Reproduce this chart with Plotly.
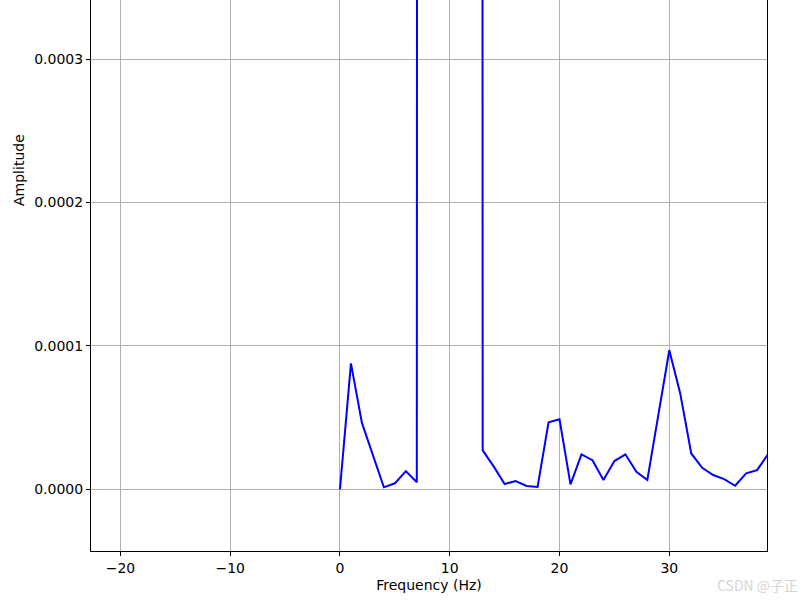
import plotly.graph_objects as go

# one-sided spectrum, 1 Hz bins (8-12 Hz peak runs far above the visible range)
freqs = list(range(0, 40))
amplitude = [
    0.0, 0.878e-4, 0.463e-4, 0.236e-4, 0.014e-4, 0.042e-4, 0.127e-4, 0.049e-4,
    0.02, 0.1, 0.5, 0.1, 0.02,
    0.272e-4, 0.16e-4, 0.037e-4, 0.058e-4, 0.023e-4, 0.016e-4, 0.468e-4,
    0.488e-4, 0.035e-4, 0.243e-4, 0.203e-4, 0.065e-4, 0.197e-4, 0.244e-4,
    0.123e-4, 0.065e-4, 0.53e-4, 0.97e-4, 0.667e-4, 0.25e-4, 0.15e-4,
    0.1e-4, 0.071e-4, 0.025e-4, 0.111e-4, 0.134e-4, 0.245e-4,
]

x_ticks = [-20, -10, 0, 10, 20, 30]
y_ticks = [0.0, 0.0001, 0.0002, 0.0003]

FONT = dict(family="DejaVu Sans, sans-serif", size=14, color="#000000")

AXIS_STYLE = dict(
    showline=True,
    linecolor="#000000",
    linewidth=1,
    showgrid=True,
    gridcolor="#b0b0b0",
    gridwidth=1,
    zeroline=False,
    ticks="outside",
    ticklen=4,
    tickwidth=1,
    tickcolor="#000000",
    tickfont=FONT,
)

fig = go.Figure(
    go.Scatter(
        x=freqs,
        y=amplitude,
        mode="lines",
        line=dict(color="#0000ff", width=2),
        showlegend=False,
    )
)

fig.update_layout(
    width=812,
    height=601,
    plot_bgcolor="#FFFFFF",
    paper_bgcolor="#FFFFFF",
    font=FONT,
    margin=dict(l=91, r=45, t=0, b=50),
    xaxis=dict(
        range=[-22.68, 38.9],
        tickvals=x_ticks,
        mirror=False,  # top spine is cropped off in the original
        title=dict(text="Frequency (Hz)", font=FONT, standoff=5),
        **AXIS_STYLE,
    ),
    yaxis=dict(
        range=[-0.43e-4, 3.412e-4],
        tickvals=y_ticks,
        tickformat=".4f",
        mirror=True,
        **AXIS_STYLE,
    ),
    annotations=[
        # y label sits at the centre of the original (taller, cropped) axes
        dict(
            text="Amplitude",
            xref="paper", yref="paper",
            x=0.0, y=0.6915,
            xanchor="center", yanchor="middle",
            xshift=-72,
            textangle=-90,
            showarrow=False,
            font=FONT,
        ),
        dict(
            text="CSDN @子正",
            xref="paper", yref="paper",
            x=1.0, y=0.0,
            xanchor="right", yanchor="middle",
            xshift=33, yshift=-34,
            showarrow=False,
            font=dict(family="Noto Sans CJK SC, DejaVu Sans", size=14, color="#d4d4d4"),
        ),
    ],
)

# drop the default 8px body margin so the figure sits flush with the window
fig.write_html(
    "out.html",
    config={"displayModeBar": False},
    post_script="document.body.style.margin='0'; document.body.style.overflow='hidden';",
)
